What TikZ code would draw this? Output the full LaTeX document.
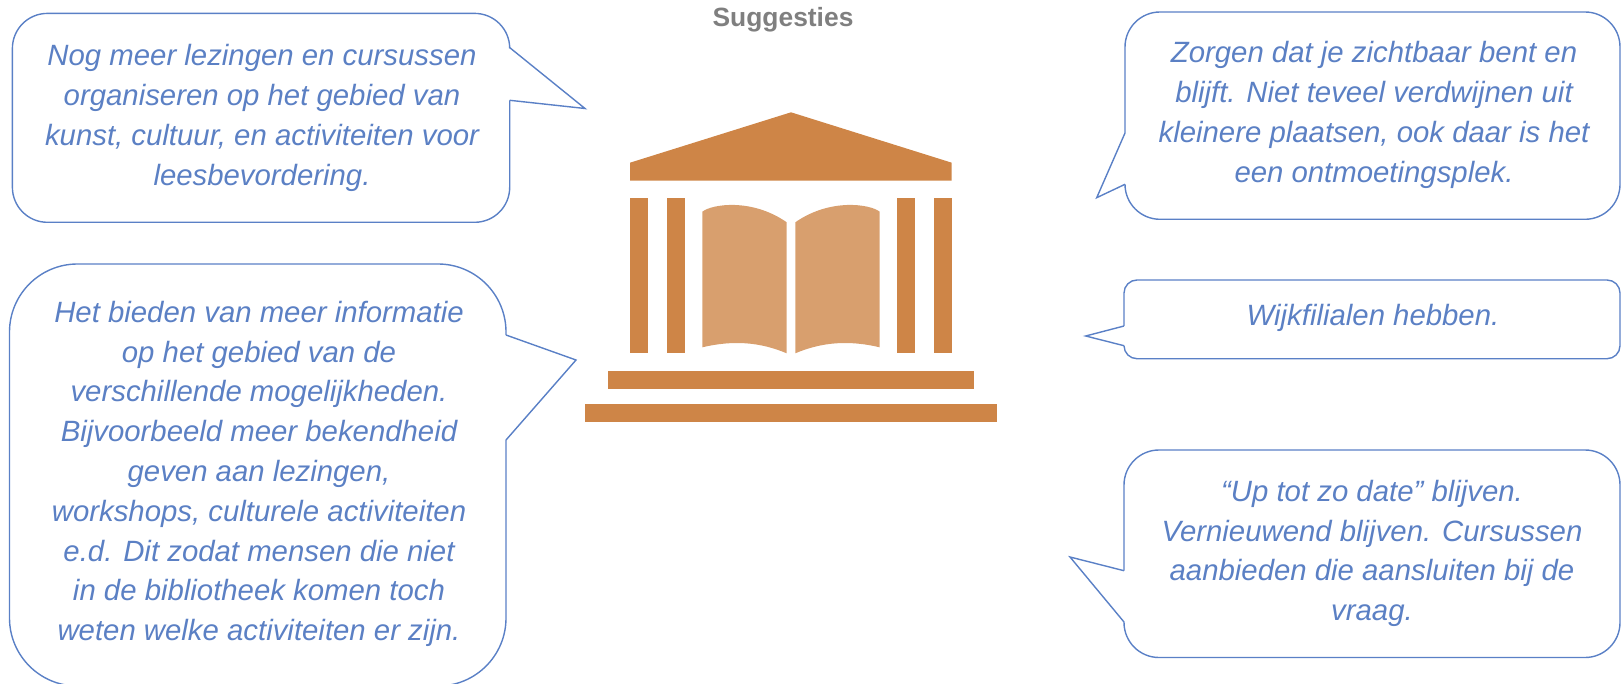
\documentclass[tikz,border=0pt]{standalone}
\usepackage{fontspec}
\setmainfont{Liberation Sans}
\definecolor{bubbleblue}{HTML}{5A80C6}
\definecolor{bubbletextblue}{HTML}{5B80C4}
\definecolor{titlegray}{HTML}{7F7F7F}
\definecolor{templeorange}{HTML}{CE8547}
\definecolor{bookorange}{HTML}{D89F6E}
\tikzset{
  bubbleline/.style={draw=bubbleblue,line width=1.4pt,line join=miter},
  bubbletext/.style={text=bubbletextblue,align=center,inner sep=0pt,font=\fontsize{29.35}{39.8}\selectfont\itshape},
  titletext/.style={text=titlegray,inner sep=0pt,font=\fontsize{26.4}{30}\selectfont\bfseries},
  templepart/.style={fill=templeorange},
  bookpart/.style={fill=bookorange}
}
\begin{document}
\begin{tikzpicture}[x=1pt,y=-1pt]
\useasboundingbox (0,0) rectangle (1621,684);
\node[titletext] (title) at (783,20) {Suggesties};
% temple
\path[templepart] (791,112.3) -- (951.7,162.7) -- (951.7,180.7) -- (630,180.7) -- (630,162.7) -- cycle;
\path[templepart] (630,198.3) rectangle (648,353.3);
\path[templepart] (667,198.3) rectangle (685,353.3);
\path[templepart] (897,198.3) rectangle (915,353.3);
\path[templepart] (934,198.3) rectangle (952,353.3);
\path[templepart] (607.7,371) rectangle (974,388.7);
\path[templepart] (585,404) rectangle (997,422);
\path[bookpart] (702.3,211.7) .. controls (712,204) and (752,198) .. (786.7,222.3) -- (786.7,353.3) .. controls (760,342) and (733,340) .. (702.3,347.3) -- cycle;
\path[bookpart] (879.7,211.7) .. controls (870,204) and (830,198) .. (795.3,222.3) -- (795.3,353.3) .. controls (822,342) and (849,340) .. (879.7,347.3) -- cycle;
% bubbles
\draw[bubbleline,rounded corners=35] (509.7,100.3) -- (509.7,222.3) -- (12.4,222.3) -- (12.4,13.4) -- (509.7,13.4) -- (509.7,47.6);
\draw[bubbleline] (509.7,47.6) -- (585,108.5) -- (509.7,100.3);
\draw[bubbleline,rounded corners=68] (506,440) -- (506,686) -- (9.5,686) -- (9.5,264) -- (506,264) -- (506,335);
\draw[bubbleline] (506,335) -- (576,360) -- (506,440);
\draw[bubbleline,rounded corners=35] (1125,133) -- (1125,12) -- (1620,12) -- (1620,219.3) -- (1125,219.3) -- (1125,184.3);
\draw[bubbleline] (1125,184.3) -- (1096.7,197.7) -- (1125,133);
\draw[bubbleline,rounded corners=13] (1124,326) -- (1124,280) -- (1620,280) -- (1620,358.7) -- (1124,358.7) -- (1124,345.7);
\draw[bubbleline] (1124,345.7) -- (1085.7,336) -- (1124,326);
\draw[bubbleline,rounded corners=35] (1124,570.7) -- (1124,450) -- (1620,450) -- (1620,657.5) -- (1124,657.5) -- (1124,622);
\draw[bubbleline] (1124,622) -- (1070,557) -- (1124,570.7);
% texts
\node[bubbletext] (lezingen) at (262,118) {Nog meer lezingen en cursussen\\organiseren op het gebied van\\kunst, cultuur, en activiteiten voor\\leesbevordering.};
\node[bubbletext] (informatie) at (259,474) {Het bieden van meer informatie\\op het gebied van de\\verschillende mogelijkheden.\\Bijvoorbeeld meer bekendheid\\geven aan lezingen,\\workshops, culturele activiteiten\\e.d. Dit zodat mensen die niet\\in de bibliotheek komen toch\\weten welke activiteiten er zijn.};
\node[bubbletext] (zichtbaar) at (1374,115) {Zorgen dat je zichtbaar bent en\\blijft. Niet teveel verdwijnen uit\\kleinere plaatsen, ook daar is het\\een ontmoetingsplek.};
\node[bubbletext] (wijk) at (1373,318) {Wijkfilialen hebben.};
\node[bubbletext] (date) at (1372,553.5) {“Up tot zo date” blijven.\\Vernieuwend blijven. Cursussen\\aanbieden die aansluiten bij de\\vraag.};
\end{tikzpicture}
\end{document}
